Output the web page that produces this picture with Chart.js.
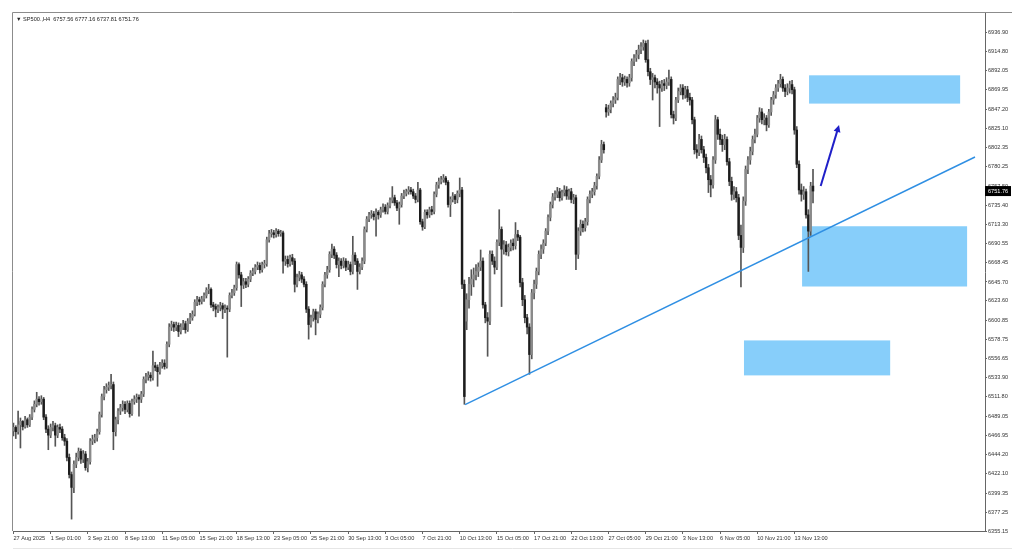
<!DOCTYPE html>
<html>
<head>
<meta charset="utf-8">
<script src="https://cdn.jsdelivr.net/npm/chart.js@4.4.1/dist/chart.umd.min.js"></script>
<style>
html, body { margin: 0; padding: 0; background: #fff; overflow: hidden; }
</style>
</head>
<body>
<canvas id="chart" width="1024" height="559"></canvas>
<script>
// SP500 H4 candles (bar index 0 = 27 Aug 2025)
const opens = [
  6472,6476,6471,6479,6483,6477,6485,6479,6488,6497,
  6503,6509,6506,6509,6488,6474,6467,6476,6478,6467,
  6476,6474,6464,6460,6441,6421,6406,6433,6441,6448,
  6439,6445,6429,6436,6460,6462,6464,6471,6491,6512,
  6520,6523,6525,6526,6471,6485,6495,6499,6503,6497,
  6504,6492,6506,6509,6511,6509,6515,6532,6535,6537,
  6534,6548,6546,6541,6548,6551,6547,6573,6593,6596,
  6593,6595,6588,6593,6597,6590,6600,6604,6608,6622,
  6625,6623,6626,6630,6636,6637,6619,6617,6614,6616,
  6618,6614,6615,6614,6630,6633,6639,6666,6654,6642,
  6646,6643,6649,6656,6658,6663,6665,6660,6666,6667,
  6695,6702,6703,6701,6705,6702,6703,6670,6672,6667,
  6674,6670,6643,6651,6654,6649,6643,6614,6596,6604,
  6611,6602,6608,6616,6643,6654,6660,6678,6684,6677,
  6666,6670,6665,6670,6663,6666,6658,6677,6670,6658,
  6663,6670,6707,6719,6724,6725,6722,6727,6724,6730,
  6733,6728,6735,6741,6744,6738,6732,6736,6746,6749,
  6751,6753,6751,6746,6742,6753,6716,6710,6727,6724,
  6730,6728,6748,6759,6763,6765,6767,6762,6736,6742,
  6746,6742,6749,6753,6643,6600,6625,6643,6649,6654,
  6658,6663,6670,6619,6604,6600,6678,6670,6663,6692,
  6707,6684,6689,6681,6686,6691,6688,6701,6698,6645,
  6625,6604,6593,6561,6633,6643,6658,6678,6684,6691,
  6705,6721,6736,6745,6748,6751,6744,6750,6753,6746,
  6751,6742,6744,6678,6705,6713,6709,6716,6742,6748,
  6751,6758,6769,6788,6806,6849,6844,6847,6854,6858,
  6861,6882,6884,6879,6882,6878,6884,6903,6907,6911,
  6917,6920,6924,6905,6891,6882,6884,6879,6876,6872,
  6877,6875,6879,6882,6841,6837,6858,6868,6872,6864,
  6870,6861,6858,6835,6800,6797,6812,6800,6791,6779,
  6765,6759,6788,6835,6818,6812,6806,6812,6786,6763,
  6748,6751,6744,6700,6686,6740,6777,6788,6798,6812,
  6818,6837,6844,6835,6837,6829,6844,6858,6864,6872,
  6877,6882,6872,6868,6872,6876,6870,6823,6783,6753,
  6748,6751,6724,6705,6757.56
];
const highs = [
  6481,6478,6495,6487,6484,6489,6487,6491,6500,6507,
  6517,6512,6513,6511,6491,6478,6480,6483,6481,6479,
  6480,6477,6468,6463,6445,6424,6437,6446,6452,6451,
  6449,6448,6440,6463,6467,6468,6474,6494,6515,6524,
  6527,6529,6538,6529,6488,6498,6503,6507,6506,6507,
  6507,6509,6513,6515,6514,6518,6535,6539,6541,6540,
  6565,6552,6549,6552,6555,6555,6576,6597,6600,6599,
  6599,6598,6597,6601,6600,6603,6609,6612,6625,6629,
  6628,6629,6633,6639,6643,6639,6622,6620,6619,6622,
  6621,6619,6618,6633,6637,6642,6669,6668,6657,6650,
  6650,6652,6659,6662,6666,6669,6668,6669,6671,6698,
  6706,6707,6706,6708,6707,6706,6705,6676,6676,6677,
  6678,6673,6655,6658,6657,6652,6646,6617,6607,6614,
  6614,6611,6619,6646,6657,6664,6681,6690,6687,6680,
  6674,6673,6674,6673,6670,6669,6699,6680,6673,6667,
  6674,6710,6722,6727,6729,6728,6731,6729,6733,6737,
  6736,6738,6744,6757,6747,6741,6739,6749,6753,6754,
  6757,6756,6754,6749,6762,6755,6719,6730,6730,6733,
  6734,6751,6762,6767,6769,6771,6769,6764,6745,6750,
  6748,6752,6767,6756,6648,6632,6651,6660,6662,6666,
  6668,6683,6674,6622,6610,6682,6682,6675,6695,6730,
  6710,6694,6693,6690,6695,6696,6715,6706,6700,6650,
  6630,6608,6597,6637,6648,6662,6682,6689,6695,6708,
  6724,6739,6749,6752,6756,6755,6753,6758,6757,6754,
  6755,6748,6747,6709,6718,6717,6720,6745,6752,6755,
  6762,6772,6792,6811,6809,6853,6852,6857,6862,6866,
  6885,6889,6888,6886,6885,6888,6906,6911,6916,6922,
  6925,6928,6927,6928,6895,6889,6887,6883,6880,6881,
  6882,6884,6893,6885,6845,6861,6872,6876,6876,6874,
  6874,6866,6861,6838,6806,6818,6816,6804,6795,6783,
  6770,6792,6840,6838,6824,6817,6818,6815,6790,6768,
  6757,6756,6748,6712,6745,6781,6792,6803,6816,6824,
  6840,6849,6848,6842,6840,6847,6861,6868,6876,6881,
  6888,6885,6876,6877,6880,6881,6873,6827,6787,6760,
  6757,6754,6730,6762,6777.16
];
const lows = [
  6466,6463,6468,6452,6473,6475,6476,6477,6485,6494,
  6500,6502,6503,6485,6470,6450,6464,6472,6454,6464,
  6470,6461,6455,6437,6417,6369,6400,6429,6437,6434,
  6435,6426,6424,6433,6456,6458,6460,6468,6488,6508,
  6516,6519,6521,6450,6466,6480,6491,6495,6492,6494,
  6488,6490,6503,6505,6489,6505,6512,6528,6531,6530,
  6531,6542,6524,6538,6545,6544,6545,6570,6589,6588,
  6589,6582,6585,6590,6586,6588,6597,6601,6606,6618,
  6619,6620,6623,6627,6632,6616,6612,6605,6610,6612,
  6603,6610,6558,6611,6627,6630,6636,6650,6617,6638,
  6639,6640,6646,6653,6655,6660,6656,6657,6662,6664,
  6692,6698,6697,6698,6699,6699,6656,6665,6663,6664,
  6666,6634,6640,6647,6645,6640,6610,6579,6593,6600,
  6584,6598,6604,6613,6640,6650,6657,6674,6673,6662,
  6652,6661,6662,6659,6660,6654,6655,6666,6637,6655,
  6660,6667,6704,6716,6720,6718,6699,6719,6721,6727,
  6725,6725,6732,6738,6735,6729,6713,6733,6743,6746,
  6748,6748,6743,6738,6739,6713,6706,6708,6720,6721,
  6724,6725,6745,6755,6760,6762,6759,6733,6722,6739,
  6737,6738,6745,6638,6503,6590,6615,6630,6640,6648,
  6652,6659,6615,6598,6559,6596,6666,6655,6660,6688,
  6617,6678,6677,6676,6682,6683,6684,6694,6640,6618,
  6598,6585,6538,6556,6626,6638,6654,6673,6679,6688,
  6701,6717,6732,6741,6744,6740,6741,6746,6742,6742,
  6738,6737,6660,6673,6700,6704,6705,6712,6738,6744,
  6747,6754,6766,6785,6796,6838,6840,6843,6850,6854,
  6858,6876,6874,6875,6873,6874,6880,6898,6903,6906,
  6912,6916,6902,6886,6876,6858,6872,6866,6827,6868,
  6869,6871,6875,6837,6830,6834,6855,6864,6859,6860,
  6856,6852,6830,6795,6790,6793,6796,6785,6773,6750,
  6745,6755,6784,6812,6806,6798,6800,6782,6758,6741,
  6742,6739,6695,6640,6680,6735,6772,6783,6794,6808,
  6815,6832,6830,6829,6822,6826,6840,6853,6860,6868,
  6873,6868,6862,6864,6866,6865,6818,6779,6748,6740,
  6742,6720,6658,6700,6737.81
];
const closes = [
  6476,6471,6479,6483,6477,6485,6479,6488,6497,6503,
  6509,6506,6509,6488,6474,6467,6476,6478,6467,6476,
  6474,6464,6460,6441,6421,6406,6433,6441,6448,6439,
  6445,6429,6436,6460,6462,6464,6471,6491,6512,6520,
  6523,6525,6526,6471,6485,6495,6499,6503,6497,6504,
  6492,6506,6509,6511,6509,6515,6532,6535,6537,6534,
  6548,6546,6541,6548,6551,6547,6573,6593,6596,6593,
  6595,6588,6593,6597,6590,6600,6604,6608,6622,6625,
  6623,6626,6630,6636,6637,6619,6617,6614,6616,6618,
  6614,6615,6614,6630,6633,6639,6666,6654,6642,6646,
  6643,6649,6656,6658,6663,6665,6660,6666,6667,6695,
  6702,6703,6701,6705,6702,6703,6670,6672,6667,6674,
  6670,6643,6651,6654,6649,6643,6614,6596,6604,6611,
  6602,6608,6616,6643,6654,6660,6678,6684,6677,6666,
  6670,6665,6670,6663,6666,6658,6677,6670,6658,6663,
  6670,6707,6719,6724,6725,6722,6727,6724,6730,6733,
  6728,6735,6741,6744,6738,6732,6736,6746,6749,6751,
  6753,6751,6746,6742,6753,6716,6710,6727,6724,6730,
  6728,6748,6759,6763,6765,6767,6762,6736,6742,6746,
  6742,6749,6753,6643,6512,6625,6643,6649,6654,6658,
  6663,6670,6619,6604,6600,6678,6670,6663,6692,6707,
  6684,6689,6681,6686,6691,6688,6701,6698,6645,6625,
  6604,6593,6561,6633,6643,6658,6678,6684,6691,6705,
  6721,6736,6745,6748,6751,6744,6750,6753,6746,6751,
  6742,6744,6678,6705,6713,6709,6716,6742,6748,6751,
  6758,6769,6788,6806,6800,6844,6847,6854,6858,6861,
  6882,6884,6879,6882,6878,6884,6903,6907,6911,6917,
  6920,6924,6905,6891,6882,6884,6879,6876,6872,6877,
  6875,6879,6882,6841,6837,6858,6868,6872,6864,6870,
  6861,6858,6835,6800,6797,6812,6800,6791,6779,6765,
  6759,6788,6835,6818,6812,6806,6812,6786,6763,6748,
  6751,6744,6700,6686,6740,6777,6788,6798,6812,6818,
  6837,6844,6835,6837,6829,6844,6858,6864,6872,6877,
  6882,6872,6868,6872,6876,6870,6823,6783,6753,6748,
  6751,6724,6705,6757.56,6751.76
];

// time axis labels (bar index -> text)
const xTickIdx = [0,16,32,48,64,80,96,112,128,144,160,176,192,208,224,240,256,272,288,304,320,336];
const xTickLabels = ['27 Aug 2025','1 Sep 01:00','3 Sep 21:00','8 Sep 13:00','11 Sep 05:00','15 Sep 21:00',
  '18 Sep 13:00','23 Sep 05:00','25 Sep 21:00','30 Sep 13:00','3 Oct 05:00','7 Oct 21:00','10 Oct 13:00',
  '15 Oct 05:00','17 Oct 21:00','22 Oct 13:00','27 Oct 05:00','29 Oct 21:00','3 Nov 13:00','6 Nov 05:00',
  '10 Nov 21:00','13 Nov 13:00'];
// price axis labels
const yTicks = [6936.90,6914.80,6892.05,6869.95,6847.20,6825.10,6802.35,6780.25,6757.50,6735.40,6713.30,
  6690.55,6668.45,6645.70,6623.60,6600.85,6578.75,6556.65,6533.90,6511.80,6489.05,6466.95,6444.20,
  6422.10,6399.35,6377.25,6355.15];

// drawn objects, in (bar index, price)
const zones = [
  [342.3, 407.3, 6886.8, 6853.8],
  [339.3, 410.3, 6710.7, 6640.4],
  [314.3, 377.2, 6577.5, 6536.7]
];
const trend = [[194.3, 6502.5], [413.7, 6791.5]];
const arrow = [[347.3, 6757.7], [355.2, 6828.8]];

const symbolText = '\u25BC SP500.,H4  6757.56 6777.16 6737.81 6751.76';
const lastPrice = closes[closes.length - 1];

Chart.defaults.font.family = '"Liberation Sans", Arial, sans-serif';
Chart.defaults.color = '#333';

const wickData = closes.map((c, i) => ({ x: i, y: [lows[i], highs[i]] }));
const bodyData = closes.map((c, i) => ({ x: i, y: [Math.min(opens[i], c), Math.max(opens[i], c)] }));
const bodyColors = closes.map((c, i) => c >= opens[i] ? '#8a8a8a' : '#1c1c1c');

const overlay = {
  id: 'overlay',
  beforeDatasetsDraw(chart) {
    const { ctx, scales: { x, y } } = chart;
    ctx.save();
    ctx.fillStyle = '#87cefa';
    zones.forEach(z => {
      const x0 = x.getPixelForValue(z[0]), x1 = x.getPixelForValue(z[1]);
      const y0 = y.getPixelForValue(z[2]), y1 = y.getPixelForValue(z[3]);
      ctx.fillRect(x0, y0, x1 - x0, y1 - y0);
    });
    ctx.restore();
  },
  afterDatasetsDraw(chart) {
    const { ctx, scales: { x, y } } = chart;
    ctx.save();
    // trend line
    ctx.strokeStyle = '#2f8fe3';
    ctx.lineWidth = 1.4;
    ctx.beginPath();
    ctx.moveTo(x.getPixelForValue(trend[0][0]), y.getPixelForValue(trend[0][1]));
    ctx.lineTo(x.getPixelForValue(trend[1][0]), y.getPixelForValue(trend[1][1]));
    ctx.stroke();
    // arrow
    const ax0 = x.getPixelForValue(arrow[0][0]), ay0 = y.getPixelForValue(arrow[0][1]);
    const ax1 = x.getPixelForValue(arrow[1][0]), ay1 = y.getPixelForValue(arrow[1][1]);
    const ang = Math.atan2(ay1 - ay0, ax1 - ax0);
    ctx.strokeStyle = '#1f1fc8';
    ctx.fillStyle = '#1f1fc8';
    ctx.lineWidth = 2;
    ctx.beginPath();
    ctx.moveTo(ax0, ay0);
    ctx.lineTo(ax1 - 4 * Math.cos(ang), ay1 - 4 * Math.sin(ang));
    ctx.stroke();
    ctx.beginPath();
    ctx.moveTo(ax1, ay1);
    ctx.lineTo(ax1 - 7 * Math.cos(ang) + 3.5 * Math.sin(ang), ay1 - 7 * Math.sin(ang) - 3.5 * Math.cos(ang));
    ctx.lineTo(ax1 - 7 * Math.cos(ang) - 3.5 * Math.sin(ang), ay1 - 7 * Math.sin(ang) + 3.5 * Math.cos(ang));
    ctx.closePath();
    ctx.fill();
    ctx.restore();
  },
  afterDraw(chart) {
    const { ctx, chartArea: a, scales: { y } } = chart;
    ctx.save();
    // window frame
    ctx.strokeStyle = '#8c8c8c';
    ctx.lineWidth = 1;
    ctx.beginPath();
    ctx.moveTo(a.left - 0.5, a.bottom);
    ctx.lineTo(a.left - 0.5, a.top - 0.5);
    ctx.lineTo(1012, a.top - 0.5);
    ctx.stroke();
    ctx.strokeStyle = '#e6e6e6';
    ctx.beginPath();
    ctx.moveTo(a.left, 548.5);
    ctx.lineTo(1012, 548.5);
    ctx.stroke();
    // symbol line
    ctx.fillStyle = '#222';
    ctx.font = '5.6px "Liberation Sans", Arial, sans-serif';
    ctx.textBaseline = 'middle';
    ctx.fillText(symbolText, a.left + 3, a.top + 6);
    // current price box
    const py = y.getPixelForValue(lastPrice);
    ctx.fillStyle = '#000';
    ctx.fillRect(a.right, py - 5, 26, 10);
    ctx.fillStyle = '#fff';
    ctx.fillText(lastPrice.toFixed(2), a.right + 3, py);
    ctx.restore();
  }
};

new Chart(document.getElementById('chart'), {
  type: 'bar',
  data: {
    datasets: [
      { label: 'wick', data: wickData, backgroundColor: '#555', barThickness: 1, grouped: false, order: 2 },
      { label: 'body', data: bodyData, backgroundColor: bodyColors, barThickness: 1.8, minBarLength: 1, grouped: false, order: 1 }
    ]
  },
  options: {
    responsive: false,
    animation: false,
    devicePixelRatio: 1,
    layout: { padding: { left: 13, top: 13, right: 0, bottom: 0 } },
    plugins: { legend: { display: false }, tooltip: { enabled: false } },
    scales: {
      x: {
        type: 'linear',
        min: -0.2,
        max: 418,
        offset: false,
        grid: { drawOnChartArea: false, offset: false, tickLength: 3, color: '#666' },
        border: { color: '#666' },
        afterBuildTicks: s => { s.ticks = xTickIdx.map(v => ({ value: v })); },
        afterFit: s => { s.height = 28; },
        ticks: {
          autoSkip: false, maxRotation: 0, align: 'start', padding: 1,
          font: { size: 5.6 }, color: '#333',
          callback: v => xTickLabels[xTickIdx.indexOf(v)]
        }
      },
      y: {
        position: 'right',
        min: 6355.15,
        max: 6959.5,
        grid: { drawOnChartArea: false, tickLength: 2, color: '#666' },
        border: { color: '#666' },
        afterBuildTicks: s => { s.ticks = yTicks.map(v => ({ value: v })); },
        afterFit: s => { s.width = 39; },
        ticks: {
          autoSkip: false, padding: 1, crossAlign: 'near',
          font: { size: 5.6 }, color: '#333',
          callback: v => v.toFixed(2)
        }
      }
    }
  },
  plugins: [overlay]
});
</script>
</body>
</html>
